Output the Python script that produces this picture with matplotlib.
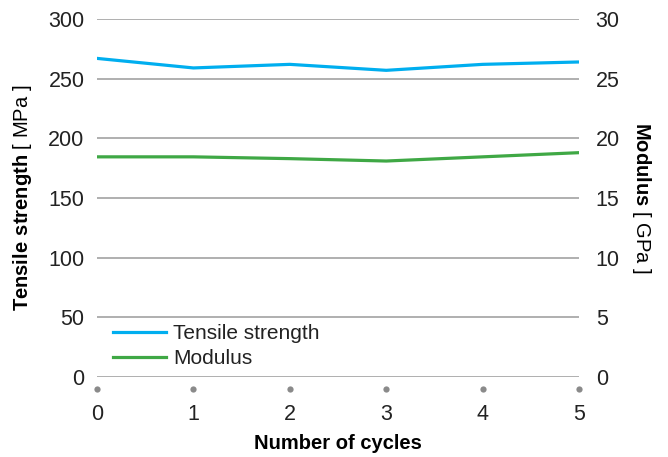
import numpy as np
import matplotlib
matplotlib.use('Agg')
import matplotlib.pyplot as plt

plt.rcParams['font.family'] = ['Liberation Sans', 'DejaVu Sans']
plt.rcParams['mathtext.fontset'] = 'custom'
plt.rcParams['mathtext.rm'] = 'Liberation Sans'
plt.rcParams['mathtext.bf'] = 'Liberation Sans:bold'

cycles = [0, 1, 2, 3, 4, 5]
tensile = [267, 259, 262, 257, 262, 264]   # MPa
modulus = [18.45, 18.45, 18.3, 18.1, 18.45, 18.8]   # GPa

blue = '#00aeef'
green = '#3fa845'
grid_c = '#9a9a9a'
txt_c = '#222222'

fig = plt.figure(figsize=(6.68, 4.57), dpi=100)
ax = fig.add_axes([0.1452, 0.175, 0.7216, 0.7834])
ax2 = ax.twinx()

l1, = ax.plot(cycles, tensile, color=blue, lw=2.3, label='Tensile strength', zorder=3)
l2, = ax2.plot(cycles, modulus, color=green, lw=2.3, label='Modulus', zorder=3)

ax.set_xlim(0, 5)
ax.set_ylim(0, 300)
ax2.set_ylim(0, 30)
ax.set_yticks(np.arange(0, 301, 50))
ax2.set_yticks(np.arange(0, 31, 5))
ax.set_xticks(cycles)

for a in (ax, ax2):
    for s in a.spines.values():
        s.set_visible(False)
ax.grid(axis='y', color=grid_c, lw=1.1)
ax.set_axisbelow(True)

ax.tick_params(axis='x', length=0, pad=11, labelsize=15.5, labelcolor=txt_c)
ax.tick_params(axis='y', length=0, pad=9, labelsize=15.5, labelcolor=txt_c)
ax2.tick_params(axis='y', length=0, pad=12, labelsize=15.5, labelcolor=txt_c)

# x ticks drawn as gray dots below the plot
ax.spines['bottom'].set_position(('outward', 8.6))
for t in ax.xaxis.get_major_ticks():
    t.tick1line.set_marker('o')
    t.tick1line.set_markersize(4.5)
    t.tick1line.set_markeredgewidth(0)
    t.tick1line.set_markerfacecolor('#8a8a8a')

ax.set_xlabel('Number of cycles', fontsize=14.5, fontweight='bold', color='black', labelpad=6)
ax.set_ylabel(r'$\bf{Tensile\ strength}$ [ MPa ]', fontsize=14.5, color='black', labelpad=10)
ax2.set_ylabel(r'$\bf{Modulus}$ [ GPa ]', fontsize=14.5, color='black', rotation=-90, labelpad=24)

leg = ax.legend(handles=[l1, l2], loc='lower left', bbox_to_anchor=(0.033, 0.025),
                frameon=False, fontsize=15, handlelength=2.55, handletextpad=0.35,
                labelspacing=0.3, borderaxespad=0, borderpad=0)
for t in leg.get_texts():
    t.set_color(txt_c)

fig.savefig('out.png', dpi=100)
